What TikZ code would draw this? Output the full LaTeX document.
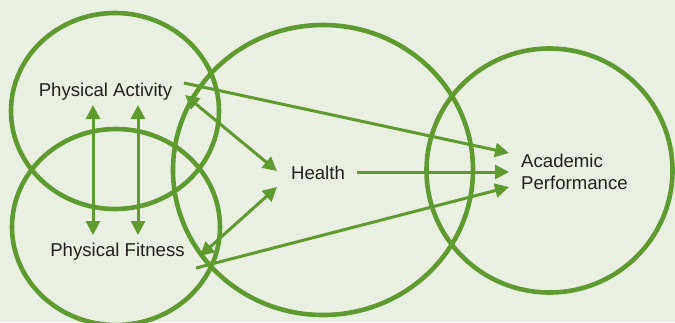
\documentclass[tikz,border=0pt]{standalone}
\usepackage{fontspec}
\setmainfont{Liberation Sans}
\usetikzlibrary{arrows.meta}
\definecolor{bggreen}{HTML}{EAF0E1}
\definecolor{lgreen}{HTML}{5E9A30}
\definecolor{txt}{HTML}{231F20}
\begin{document}
\begin{tikzpicture}[x=1pt,y=-1pt,
  ring/.style={draw=lgreen,line width=4.6pt},
  conn/.style={draw=lgreen,line width=3pt,-{Triangle[length=14pt,width=14pt]}},
  biconn/.style={draw=lgreen,line width=3pt,{Triangle[length=14pt,width=14pt]}-{Triangle[length=14pt,width=14pt]}},
  lbl/.style={text=txt,font=\fontsize{18.6}{22.5}\selectfont,inner sep=0pt}]
\fill[bggreen] (0,0) rectangle (675,322);
\useasboundingbox (0,0) rectangle (675,322);
\begin{scope}
\clip (0,0) rectangle (675,322);
\draw[ring] (115,111) ellipse [x radius=104, y radius=98];
\draw[ring] (116,227) ellipse [x radius=104, y radius=98];
\draw[ring] (323,170) ellipse [x radius=150, y radius=145];
\draw[ring] (549.5,170.5) ellipse [x radius=123, y radius=122];
\end{scope}
\node[lbl] (pa) at (105.5,92) {Physical Activity};
\node[lbl] (pf) at (117.5,252) {Physical Fitness};
\node[lbl] (he) at (318,173) {Health};
\node[lbl,align=left,anchor=west] (ap) at (521,172) {Academic\\Performance};
\coordinate (paE) at (184,83);
\coordinate (paH) at (185,95);
\coordinate (pfH) at (200,256);
\coordinate (pfE) at (196,268);
\coordinate (heW1) at (277,171);
\coordinate (heW2) at (277,187);
\coordinate (heE) at (357,172);
\coordinate (ap1) at (509,153);
\coordinate (ap2) at (509,172);
\coordinate (ap3) at (509,187);
\coordinate (v1t) at (93,105);
\coordinate (v1b) at (93,235);
\coordinate (v2t) at (138,105);
\coordinate (v2b) at (138,235);
\draw[conn] (paE) -- (ap1);
\draw[conn] (heE) -- (ap2);
\draw[conn] (pfE) -- (ap3);
\draw[biconn] (paH) -- (heW1);
\draw[biconn] (pfH) -- (heW2);
\draw[biconn] (v1t) -- (v1b);
\draw[biconn] (v2t) -- (v2b);
\end{tikzpicture}
\end{document}
